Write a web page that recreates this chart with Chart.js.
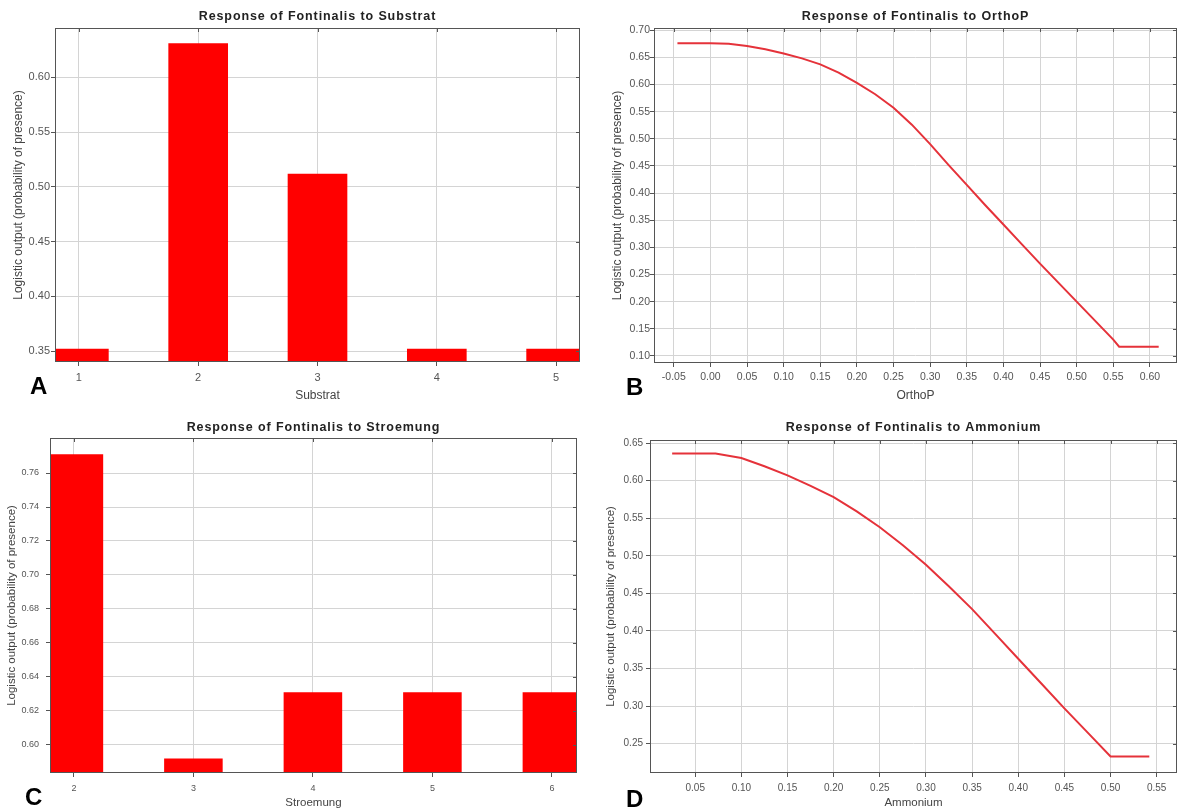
<!DOCTYPE html>
<html>
<head>
<meta charset="utf-8">
<title>Response of Fontinalis</title>
<script src="https://cdn.jsdelivr.net/npm/chart.js@4.4.1/dist/chart.umd.min.js"></script>
<style>
  body { margin: 0; background: #fff; }
  #wrap { position: relative; width: 1180px; height: 810px; overflow: hidden; }
  canvas { position: absolute; }
  .lbl { position: absolute; font: bold 24px "Liberation Sans", Arial, sans-serif; line-height: 24px; color: #000; }
</style>
</head>
<body>
<div id="wrap">
  <canvas id="chartA" width="590" height="405" style="left:0px;top:0px"></canvas>
  <canvas id="chartB" width="590" height="405" style="left:590px;top:0px"></canvas>
  <canvas id="chartC" width="590" height="405" style="left:0px;top:405px"></canvas>
  <canvas id="chartD" width="590" height="405" style="left:590px;top:405px"></canvas>
  <div class="lbl" style="left:30px;top:374px">A</div>
  <div class="lbl" style="left:626px;top:375px">B</div>
  <div class="lbl" style="left:25px;top:785px">C</div>
  <div class="lbl" style="left:626px;top:787px">D</div>
</div>
<script>
Chart.defaults.font.family = '"Liberation Sans", Arial, sans-serif';
Chart.defaults.color = '#555';

// Substrat (bars)
const substratCats = [1, 2, 3, 4, 5];
const substratValues = [0.352, 0.631, 0.512, 0.352, 0.352];
const substratYTicks = [0.35, 0.40, 0.45, 0.50, 0.55, 0.60];

// OrthoP (curve)
const orthoPX = [-0.045, 0.0, 0.025, 0.05, 0.075, 0.10, 0.125, 0.15, 0.175, 0.20, 0.225, 0.25, 0.275, 0.30, 0.325, 0.35, 0.375, 0.40, 0.425, 0.45, 0.475, 0.50, 0.525, 0.55, 0.558, 0.612];
const orthoPY = [0.676, 0.676, 0.675, 0.671, 0.665, 0.657, 0.648, 0.637, 0.622, 0.603, 0.582, 0.557, 0.526, 0.490, 0.452, 0.415, 0.378, 0.342, 0.306, 0.270, 0.235, 0.200, 0.165, 0.130, 0.117, 0.117];
const orthoPXTicks = [-0.05, 0.00, 0.05, 0.10, 0.15, 0.20, 0.25, 0.30, 0.35, 0.40, 0.45, 0.50, 0.55, 0.60];
const orthoPYTicks = [0.10, 0.15, 0.20, 0.25, 0.30, 0.35, 0.40, 0.45, 0.50, 0.55, 0.60, 0.65, 0.70];

// Stroemung (bars)
const stroemungCats = [2, 3, 4, 5, 6];
const stroemungValues = [0.771, 0.592, 0.631, 0.631, 0.631];
const stroemungYTicks = [0.60, 0.62, 0.64, 0.66, 0.68, 0.70, 0.72, 0.74, 0.76];

// Ammonium (curve)
const ammoniumX = [0.025, 0.05, 0.072, 0.10, 0.125, 0.15, 0.175, 0.20, 0.225, 0.25, 0.275, 0.30, 0.325, 0.35, 0.375, 0.40, 0.425, 0.45, 0.475, 0.50, 0.542];
const ammoniumY = [0.636, 0.636, 0.636, 0.630, 0.619, 0.607, 0.593, 0.578, 0.559, 0.538, 0.514, 0.488, 0.459, 0.429, 0.396, 0.363, 0.330, 0.297, 0.265, 0.233, 0.233];
const ammoniumXTicks = [0.05, 0.10, 0.15, 0.20, 0.25, 0.30, 0.35, 0.40, 0.45, 0.50, 0.55];
const ammoniumYTicks = [0.25, 0.30, 0.35, 0.40, 0.45, 0.50, 0.55, 0.60, 0.65];

const yTitle = 'Logistic output (probability of presence)';

// box round the plot + small inward ticks on top and right
const framePlugin = {
  id: 'frame',
  afterDatasetsDraw(chart) {
    const { ctx, chartArea: a, scales } = chart;
    ctx.save();
    ctx.strokeStyle = '#555';
    ctx.lineWidth = 1;
    ctx.strokeRect(a.left + 0.5, a.top + 0.5, a.right - a.left - 1, a.bottom - a.top - 1);
    ctx.beginPath();
    scales.x.ticks.forEach(t => {
      const px = Math.round(scales.x.getPixelForValue(t.value)) + 0.5;
      ctx.moveTo(px, a.top); ctx.lineTo(px, a.top + 4);
    });
    scales.y.ticks.forEach(t => {
      const py = Math.round(scales.y.getPixelForValue(t.value)) + 0.5;
      ctx.moveTo(a.right, py); ctx.lineTo(a.right - 4, py);
    });
    ctx.stroke();
    ctx.restore();
  }
};

// title centred over the plot area
const titlePlugin = {
  id: 'panelTitle',
  afterDraw(chart, args, opts) {
    const { ctx, chartArea: a } = chart;
    ctx.save();
    ctx.font = 'bold 12.5px "Liberation Sans", Arial, sans-serif';
    ctx.letterSpacing = '0.9px';
    ctx.fillStyle = '#222';
    ctx.textAlign = 'center';
    ctx.textBaseline = 'middle';
    ctx.fillText(opts.text, (a.left + a.right) / 2, a.top - opts.gap);
    ctx.restore();
  }
};

function panel(id, type, datasets, o) {
  return new Chart(document.getElementById(id), {
    type: type,
    data: { datasets: datasets },
    plugins: [framePlugin, titlePlugin],
    options: {
      responsive: false,
      animation: false,
      layout: { padding: { top: o.top, right: o.right, left: 0, bottom: 0 } },
      plugins: {
        legend: { display: false },
        tooltip: { enabled: false },
        panelTitle: { text: o.title, gap: o.gap }
      },
      scales: {
        x: {
          type: 'linear',
          min: o.xMin,
          max: o.xMax,
          offset: false,
          afterBuildTicks: ax => { ax.ticks = o.xTicks.map(v => ({ value: v })); },
          afterFit: ax => { ax.height = o.xHeight; },
          grid: { color: '#d4d4d4', tickColor: '#555', tickLength: 4, offset: false },
          border: { display: false },
          ticks: { font: { size: o.tickSize }, padding: o.xPad, maxRotation: 0, autoSkip: false, callback: o.xFmt },
          title: { display: true, text: o.xTitle, color: '#444', font: { size: o.titleSize }, padding: { top: 0, bottom: o.xTitlePad } }
        },
        y: {
          min: o.yMin,
          max: o.yMax,
          afterBuildTicks: ax => { ax.ticks = o.yTicks.map(v => ({ value: v })); },
          afterFit: ax => { ax.width = o.yWidth; },
          grid: { color: '#d4d4d4', tickColor: '#555', tickLength: 4 },
          border: { display: false },
          ticks: { font: { size: o.tickSize }, padding: o.yPad, callback: v => v.toFixed(2) },
          title: { display: true, text: yTitle, color: '#444', font: { size: o.titleSize }, padding: { top: o.yTitlePad, bottom: 0 } }
        }
      }
    }
  });
}

function barSet(cats, vals, pct) {
  return [{
    data: cats.map((c, i) => ({ x: c, y: vals[i] })),
    backgroundColor: '#ff0000',
    borderWidth: 0,
    categoryPercentage: 1,
    barPercentage: pct
  }];
}

function lineSet(xs, ys) {
  return [{
    data: xs.map((x, i) => ({ x: x, y: ys[i] })),
    borderColor: '#e5323a',
    borderWidth: 2,
    pointRadius: 0,
    fill: false,
    tension: 0
  }];
}

panel('chartA', 'bar', barSet(substratCats, substratValues, 0.5), {
  title: 'Response of Fontinalis to Substrat', gap: 11,
  top: 28, right: 10, yWidth: 55, xHeight: 43,
  xMin: 0.8, xMax: 5.2, yMin: 0.34, yMax: 0.645,
  xTicks: substratCats, yTicks: substratYTicks, xFmt: v => String(v),
  xTitle: 'Substrat', tickSize: 11, titleSize: 12,
  xPad: 5, xTitlePad: 2, yPad: 1, yTitlePad: 11
});

panel('chartB', 'line', lineSet(orthoPX, orthoPY), {
  title: 'Response of Fontinalis to OrthoP', gap: 11,
  top: 28, right: 3, yWidth: 64, xHeight: 42,
  xMin: -0.077, xMax: 0.637, yMin: 0.087, yMax: 0.704,
  xTicks: orthoPXTicks, yTicks: orthoPYTicks, xFmt: v => v.toFixed(2),
  xTitle: 'OrthoP', tickSize: 10.5, titleSize: 12,
  xPad: 4, xTitlePad: 2, yPad: 0, yTitlePad: 20
});

panel('chartC', 'bar', barSet(stroemungCats, stroemungValues, 0.49), {
  title: 'Response of Fontinalis to Stroemung', gap: 10,
  top: 33, right: 13, yWidth: 50, xHeight: 37,
  xMin: 1.8, xMax: 6.21, yMin: 0.5835, yMax: 0.7806,
  xTicks: stroemungCats, yTicks: stroemungYTicks, xFmt: v => String(v),
  xTitle: 'Stroemung', tickSize: 9, titleSize: 11.5,
  xPad: 6, xTitlePad: 0, yPad: 7, yTitlePad: 5
});

panel('chartD', 'line', lineSet(ammoniumX, ammoniumY), {
  title: 'Response of Fontinalis to Ammonium', gap: 12,
  top: 35, right: 3, yWidth: 60, xHeight: 37,
  xMin: 0.001, xMax: 0.572, yMin: 0.211, yMax: 0.654,
  xTicks: ammoniumXTicks, yTicks: ammoniumYTicks, xFmt: v => v.toFixed(2),
  xTitle: 'Ammonium', tickSize: 10, titleSize: 11.5,
  xPad: 5, xTitlePad: 0, yPad: 3, yTitlePad: 14
});
</script>
</body>
</html>
